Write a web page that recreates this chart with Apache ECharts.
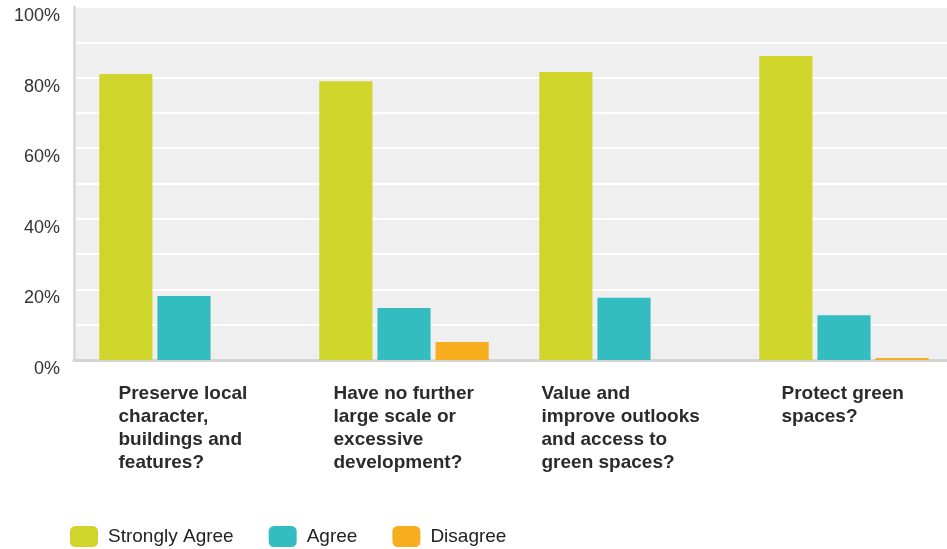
<!DOCTYPE html>
<html><head><meta charset="utf-8">
<script src="https://cdn.jsdelivr.net/npm/echarts@6/dist/echarts.min.js"></script>
<style>html,body{margin:0;padding:0;background:#fff}#c{width:947px;height:549px}</style>
</head><body><div id="c"></div>
<script>
const categories = [
  "Preserve local\ncharacter,\nbuildings and\nfeatures?",
  "Have no further\nlarge scale or\nexcessive\ndevelopment?",
  "Value and\nimprove outlooks\nand access to\ngreen spaces?",
  "Protect green\nspaces?"
];
const stronglyAgree = [81.0, 79.0, 81.6, 86.1];
const agree = [18.1, 14.7, 17.6, 12.7];
const disagree = [0, 5.1, 0, 0.6];
const seriesNames = ["Strongly Agree", "Agree", "Disagree"];
const yTicks = [0, 20, 40, 60, 80, 100];

const FONT = 'Liberation Sans, Arial, sans-serif';
const blockWidths = [131, 141, 165, 125];
const rich = {};
blockWidths.forEach((w, i) => { rich['c' + i] = { width: w, align: 'left', fontSize: 19, fontWeight: 'bold', lineHeight: 23, color: '#2b2b2b', fontFamily: FONT }; });

const chart = echarts.init(document.getElementById('c'));
chart.setOption({
  animation: false,
  color: ['#cfd52a', '#33bdc0', '#f6ae1f'],
  grid: { left: 74, width: 880, top: 7, bottom: 189, show: true, backgroundColor: '#efefef', borderWidth: 0, outerBoundsMode: 'none', containLabel: false },
  legend: {
    data: seriesNames, left: 65, bottom: -3, itemWidth: 28, itemHeight: 21, itemGap: 35,
    icon: 'roundRect',
    textStyle: { fontSize: 19, color: '#222', fontFamily: FONT, padding: [0, 0, 0, 5] }
  },
  xAxis: {
    type: 'category', data: categories,
    axisLine: { show: true, lineStyle: { color: '#d4d4d4', width: 3 } },
    axisTick: { show: false },
    axisLabel: {
      margin: 22, interval: 0, verticalAlign: 'top',
      formatter: (v, i) => v.split('\n').map(l => '{c' + i + '|' + l + '}').join('\n'),
      rich: rich
    }
  },
  yAxis: {
    type: 'value', min: 0, max: 100, interval: 10,
    axisLine: { show: true, lineStyle: { color: '#dcdcdc', width: 3 } },
    axisTick: { show: false },
    splitLine: { lineStyle: { color: '#ffffff', width: 2 } },
    axisLabel: {
      margin: 14, fontSize: 18, color: '#333', fontFamily: FONT,
      formatter: v => yTicks.includes(v) ? '{t|' + v + '%}' : '',
      rich: { t: { fontSize: 18, color: '#333', fontFamily: FONT, padding: [18, 0, 0, 0] } }
    }
  },
  series: [
    { name: seriesNames[0], type: 'bar', data: stronglyAgree, barGap: '9.4%', barCategoryGap: '23%' },
    { name: seriesNames[1], type: 'bar', data: agree, barGap: '9.4%', barCategoryGap: '23%' },
    { name: seriesNames[2], type: 'bar', data: disagree, barGap: '9.4%', barCategoryGap: '23%' }
  ]
});
</script></body></html>
